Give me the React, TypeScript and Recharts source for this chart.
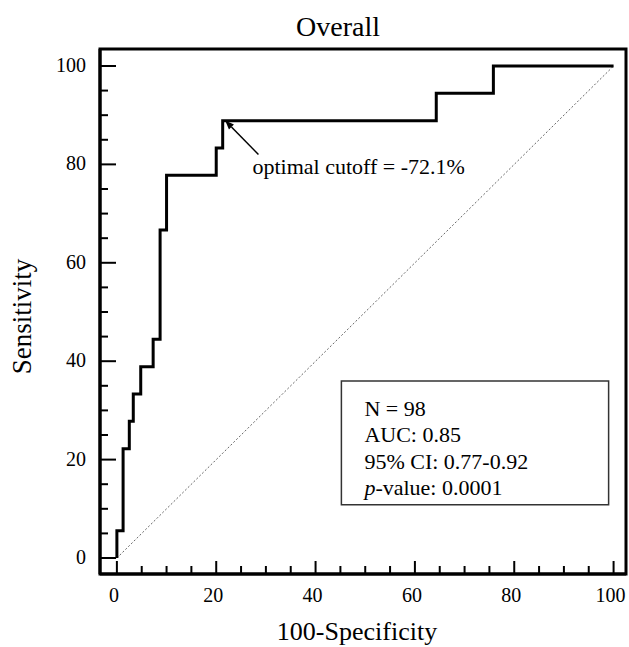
import React from 'react';
import { LineChart, Line, XAxis, YAxis, ReferenceArea, ReferenceLine } from 'recharts';

// ROC curve corner points (100-specificity, sensitivity)
const FPR = [0, 0, 1.25, 2.5, 3.3, 4.8, 7.3, 8.7, 10, 20, 21.3, 64.3, 75.8, 100];
const TPR = [0, 5.56, 22.22, 27.78, 33.33, 38.89, 44.44, 66.67, 77.78, 83.33, 88.89, 94.44, 100, 100];

// chance line
const CHANCE_X = [0, 100];
const CHANCE_Y = [0, 100];

const X_TICKS = [0, 5, 10, 15, 20, 25, 30, 35, 40, 45, 50, 55, 60, 65, 70, 75, 80, 85, 90, 95, 100];
const Y_TICKS = [0, 5, 10, 15, 20, 25, 30, 35, 40, 45, 50, 55, 60, 65, 70, 75, 80, 85, 90, 95, 100];
const MAJOR = [0, 20, 40, 60, 80, 100];

const CUTOFF_LABEL = 'optimal cutoff = -72.1%';
const CUTOFF_POINT = { x: 21.8, y: 88.9 };
const CUTOFF_TAIL = { x: 28.5, y: 82 };

const STATS = ['N = 98', 'AUC: 0.85', '95% CI: 0.77-0.92', 'p-value: 0.0001'];
const STATS_BOX = { x1: 45.2, x2: 99, y1: 10.8, y2: 36 };

const rocData = FPR.map((x, i) => ({ x, y: TPR[i] }));
const chanceData = CHANCE_X.map((x, i) => ({ x, y: CHANCE_Y[i] }));

const FONT = '"Liberation Serif", "DejaVu Serif", serif';

const XTick = (props: any) => {
  const { x, y, payload } = props;
  const major = MAJOR.includes(payload.value);
  return (
    <g>
      <line x1={x} x2={x} y1={y} y2={y - (major ? 13 : 8)} stroke="#000" strokeWidth={2} />
      {major && (
        <text x={x - 3} y={y + 28} textAnchor="middle" fontFamily={FONT} fontSize={20} fill="#000">
          {payload.value}
        </text>
      )}
    </g>
  );
};

const YTick = (props: any) => {
  const { x, y, payload } = props;
  const major = MAJOR.includes(payload.value);
  return (
    <g>
      <line x1={x} x2={x + (major ? 16 : 8)} y1={y} y2={y} stroke="#000" strokeWidth={2} />
      {major && (
        <text x={x - 14} y={y + 6} textAnchor="end" fontFamily={FONT} fontSize={20} fill="#000">
          {payload.value}
        </text>
      )}
    </g>
  );
};

const CutoffArrow = (props: any) => {
  const { x1, y1, x2, y2 } = props;
  const dx = x2 - x1;
  const dy = y2 - y1;
  const len = Math.sqrt(dx * dx + dy * dy);
  const ux = dx / len;
  const uy = dy / len;
  const hl = 9;
  const hw = 3.5;
  const bx = x2 - ux * hl;
  const by = y2 - uy * hl;
  const pts = `${x2},${y2} ${bx - uy * hw},${by + ux * hw} ${bx + uy * hw},${by - ux * hw}`;
  return (
    <g>
      <line x1={x1} y1={y1} x2={bx} y2={by} stroke="#000" strokeWidth={1.5} />
      <polygon points={pts} fill="#000" />
      <text x={x1 - 6} y={y1 + 19} fontFamily={FONT} fontSize={22} fill="#000">
        {CUTOFF_LABEL}
      </text>
    </g>
  );
};

const StatsText = ({ viewBox }: any) => {
  const { x, y } = viewBox;
  return (
    <text fontFamily={FONT} fontSize={22} fill="#000">
      {STATS.map((s, i) => {
        const italicP = s.startsWith('p-');
        return (
          <tspan key={s} x={x + 23} y={y + 35 + i * 26.5}>
            {italicP ? <tspan fontStyle="italic">p</tspan> : null}
            {italicP ? s.slice(1) : s}
          </tspan>
        );
      })}
    </text>
  );
};

export default function App() {
  return (
    <div style={{ position: 'absolute', left: 0, top: 0, width: 629, height: 647, background: '#fff' }}>
      <div
        style={{
          position: 'absolute',
          left: 0,
          top: 13,
          width: 676,
          textAlign: 'center',
          fontFamily: FONT,
          fontSize: 28,
          lineHeight: '28px',
          color: '#000',
        }}
      >
        Overall
      </div>
      <LineChart width={629} height={647} margin={{ top: 49, right: 3, bottom: 0, left: 0 }}>
        <XAxis
          type="number"
          dataKey="x"
          domain={[-3.4, 102.5]}
          allowDataOverflow
          ticks={X_TICKS}
          interval={0}
          height={73}
          tickSize={0}
          tickMargin={0}
          tick={<XTick />}
          axisLine={{ stroke: '#000', strokeWidth: 3 }}
          label={{
            content: ({ viewBox }: any) => (
              <text
                x={viewBox.x + viewBox.width / 2 - 6}
                y={viewBox.y + 66}
                textAnchor="middle"
                fontFamily={FONT}
                fontSize={26}
                fill="#000"
              >
                100-Specificity
              </text>
            ),
          }}
        />
        <YAxis
          type="number"
          dataKey="y"
          domain={[-3.25, 103.45]}
          allowDataOverflow
          ticks={Y_TICKS}
          interval={0}
          width={100}
          tickSize={0}
          tickMargin={0}
          tick={<YTick />}
          axisLine={{ stroke: '#000', strokeWidth: 3 }}
          label={{
            content: ({ viewBox }: any) => {
              const cy = viewBox.y + viewBox.height / 2 + 5;
              return (
                <text
                  x={31}
                  y={cy}
                  transform={`rotate(-90 31 ${cy})`}
                  textAnchor="middle"
                  fontFamily={FONT}
                  fontSize={27}
                  fill="#000"
                >
                  Sensitivity
                </text>
              );
            },
          }}
        />
        <ReferenceArea
          x1={-3.4}
          x2={102.5}
          y1={-3.25}
          y2={103.45}
          ifOverflow="visible"
          stroke="#000"
          strokeWidth={3}
          fill="none"
          fillOpacity={0}
        />
        <Line
          data={chanceData}
          dataKey="y"
          type="linear"
          stroke="#666"
          strokeWidth={1}
          strokeDasharray="2 2"
          dot={false}
          isAnimationActive={false}
        />
        <Line
          data={rocData}
          dataKey="y"
          type="stepAfter"
          stroke="#000"
          strokeWidth={3}
          dot={false}
          isAnimationActive={false}
        />
        <ReferenceLine
          segment={[CUTOFF_TAIL, CUTOFF_POINT]}
          ifOverflow="visible"
          shape={<CutoffArrow />}
        />
        <ReferenceArea
          x1={STATS_BOX.x1}
          x2={STATS_BOX.x2}
          y1={STATS_BOX.y1}
          y2={STATS_BOX.y2}
          ifOverflow="visible"
          stroke="#333"
          strokeWidth={1.5}
          fill="#fff"
          fillOpacity={1}
          label={(p: any) => <StatsText viewBox={p.viewBox} />}
        />
      </LineChart>
    </div>
  );
}
